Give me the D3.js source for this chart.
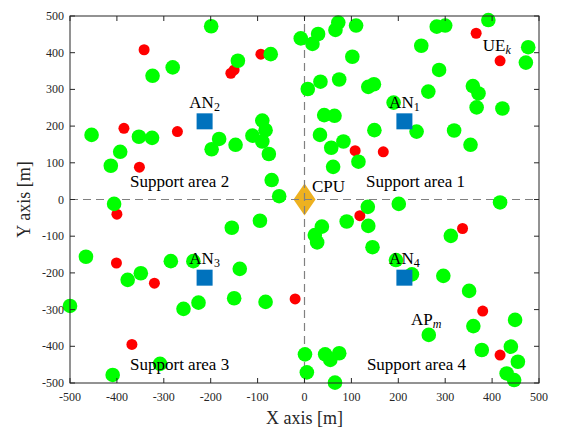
<!DOCTYPE html>
<html>
<head>
<meta charset="utf-8">
<script src="https://cdn.jsdelivr.net/npm/d3@7"></script>
<style>
  body { margin: 0; background: #fff; }
  text { font-family: "Liberation Serif", "DejaVu Serif", serif; }
</style>
</head>
<body>
<svg id="chart"></svg>
<script>
var width = 561, height = 432;
var margin = {top: 16, right: 22, bottom: 49, left: 70};

// APs (green)
var apX = [-199, -72, -142, -281, -324, -8, 7, -90, -83, -111, -90, -76, -182, -198, -147, -393, -413, -454, -353, -325, -70, -54, -406,
  72, 66, 110, 29, 17, 102, 282, 300, 392, 477, 472, 249, 287, 74, 34, 136, 148, 264, 359, 371, 367, 422, 190, 42, 64, 149, 239, 319, 354, 33, 83, 57, 115, 61, 201, 417,
  -155, -95, -466, -377, -349, -285, -237, -138, -500, -258, -226, -150, -83, -308, -409, 1, 5,
  135, 90, 136, 37, 22, 27, 145, 312, 229, 195, 296, 351, 449, 360, 265, 378, 440, 455, 431, 447, 44, 55, 74, 65];
var apY = [472, 396, 378, 360, 337, 439, 301, 215, 189, 174, 158, 124, 165, 137, 149, 130, 92, 176, 171, 168, 53, 9, -12,
  482, 462, 474, 451, 424, 389, 471, 474, 489, 415, 373, 419, 353, 327, 321, 307, 314, 294, 309, 289, 251, 248, 264, 230, 228, 189, 185, 188, 149, 176, 158, 141, 103, 89, -12, -8,
  -77, -58, -156, -219, -201, -168, -168, -189, -290, -298, -281, -269, -279, -448, -478, -422, -471,
  -20, -60, -72, -74, -97, -117, -130, -99, -204, -165, -208, -249, -328, -345, -369, -410, -401, -442, -474, -492, -422, -437, -419, -499];

// UEs (red)
var ueX = [-342, -93, -157, -150, -385, -271, -352, 366, 417, 108, 168, -400, -401, -320, -20, -368, 118, 337, 380, 417];
var ueY = [408, 396, 344, 353, 194, 185, 88, 453, 378, 133, 130, -40, -173, -228, -271, -395, -44, -79, -304, -424];

// ANs and CPU
var anX = [213, -213, -213, 213];
var anY = [213, 213, -213, -213];
var anLabel = ["1", "2", "3", "4"];
var cpuX = [0], cpuY = [0];

var xTicks = [-500, -400, -300, -200, -100, 0, 100, 200, 300, 400, 500];
var yTicks = [-500, -400, -300, -200, -100, 0, 100, 200, 300, 400, 500];

var svg = d3.select("#chart").attr("width", width).attr("height", height);

var x = d3.scaleLinear().domain([-500, 500]).range([margin.left, width - margin.right]);
var y = d3.scaleLinear().domain([-500, 500]).range([height - margin.bottom, margin.top]);

var axisColor = "#262626";

// CPU diamond (the dashed lines sit over it)
svg.append("g").selectAll("path")
  .data(cpuX.map((d, i) => [d, cpuY[i]]))
  .enter().append("path")
  .attr("transform", d => `translate(${x(d[0])},${y(d[1])})`)
  .attr("d", "M0,-16L11,0L0,16L-11,0Z")
  .attr("fill", "#edb120");

// dashed quadrant lines
svg.append("line")
  .attr("x1", x(-500)).attr("x2", x(500)).attr("y1", y(0)).attr("y2", y(0))
  .attr("stroke", "#808080").attr("stroke-width", 1.2).attr("stroke-dasharray", "8,5");
svg.append("line")
  .attr("x1", x(0)).attr("x2", x(0)).attr("y1", y(-500)).attr("y2", y(500))
  .attr("stroke", "#808080").attr("stroke-width", 1.2).attr("stroke-dasharray", "8,5");

// UEs first, APs over them
svg.append("g").selectAll("circle")
  .data(ueX.map((d, i) => [d, ueY[i]]))
  .enter().append("circle")
  .attr("cx", d => x(d[0])).attr("cy", d => y(d[1]))
  .attr("r", 5.5).attr("fill", "#ff0000");

svg.append("g").selectAll("circle")
  .data(apX.map((d, i) => [d, apY[i]]))
  .enter().append("circle")
  .attr("cx", d => x(d[0])).attr("cy", d => y(d[1]))
  .attr("r", 7.3).attr("fill", "#00ff00");

// AN squares
svg.append("g").selectAll("rect")
  .data(anX.map((d, i) => [d, anY[i]]))
  .enter().append("rect")
  .attr("x", d => x(d[0]) - 8).attr("y", d => y(d[1]) - 8)
  .attr("width", 16).attr("height", 16)
  .attr("fill", "#0072bd");

// box with inward ticks
var plot = svg.append("g");
plot.append("rect")
  .attr("x", x(-500)).attr("y", y(500))
  .attr("width", x(500) - x(-500)).attr("height", y(-500) - y(500))
  .attr("fill", "none").attr("stroke", axisColor).attr("stroke-width", 1);

var tl = 5;
xTicks.forEach(function(t) {
  plot.append("line").attr("x1", x(t)).attr("x2", x(t)).attr("y1", y(-500)).attr("y2", y(-500) - tl).attr("stroke", axisColor);
  plot.append("line").attr("x1", x(t)).attr("x2", x(t)).attr("y1", y(500)).attr("y2", y(500) + tl).attr("stroke", axisColor);
  plot.append("text").attr("x", x(t)).attr("y", y(-500) + 18)
    .attr("text-anchor", "middle").attr("font-size", 12).attr("fill", axisColor).text(t);
});
yTicks.forEach(function(t) {
  plot.append("line").attr("x1", x(-500)).attr("x2", x(-500) + tl).attr("y1", y(t)).attr("y2", y(t)).attr("stroke", axisColor);
  plot.append("line").attr("x1", x(500)).attr("x2", x(500) - tl).attr("y1", y(t)).attr("y2", y(t)).attr("stroke", axisColor);
  plot.append("text").attr("x", x(-500) - 6).attr("y", y(t) + 4)
    .attr("text-anchor", "end").attr("font-size", 12).attr("fill", axisColor).text(t);
});

// axis titles
svg.append("text").attr("x", x(0)).attr("y", 424)
  .attr("text-anchor", "middle").attr("font-size", 18).attr("fill", axisColor).text("X axis [m]");
svg.append("text").attr("transform", `translate(30,${y(0)}) rotate(-90)`)
  .attr("text-anchor", "middle").attr("font-size", 18).attr("fill", axisColor).text("Y axis [m]");

// annotations
var areaText = [["Support area 1", 131, 34], ["Support area 2", -372, 34], ["Support area 3", -372, -465], ["Support area 4", 133, -465]];
areaText.forEach(function(a) {
  svg.append("text").attr("x", x(a[1])).attr("y", y(a[2]))
    .attr("font-size", 17).attr("fill", "#000").text(a[0]);
});

anX.forEach(function(d, i) {
  var t = svg.append("text").attr("x", x(d)).attr("y", y(anY[i] > 0 ? 249 : -177))
    .attr("text-anchor", "middle").attr("font-size", 17).attr("fill", "#000");
  t.append("tspan").text("AN");
  t.append("tspan").attr("font-size", 12).attr("dy", 3).text(anLabel[i]);
});

svg.append("text").attr("x", x(16)).attr("y", y(20)).attr("font-size", 17).attr("fill", "#000").text("CPU");

var ue = svg.append("text").attr("x", x(380)).attr("y", y(404)).attr("font-size", 17).attr("fill", "#000");
ue.append("tspan").text("UE");
ue.append("tspan").attr("font-size", 12).attr("font-style", "italic").attr("dy", 3).text("k");

var ap = svg.append("text").attr("x", x(227)).attr("y", y(-341)).attr("font-size", 17).attr("fill", "#000");
ap.append("tspan").text("AP");
ap.append("tspan").attr("font-size", 12).attr("font-style", "italic").attr("dy", 3).text("m");
</script>
</body>
</html>
